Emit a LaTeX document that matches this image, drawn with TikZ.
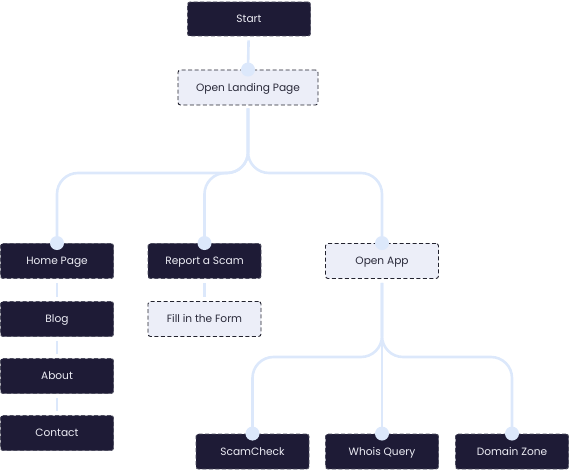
\documentclass[tikz,border=0pt]{standalone}
\usepackage{fontspec}
\setmainfont{Poppins}
\usetikzlibrary{calc}
\definecolor{darkbox}{HTML}{1E1B36}
\definecolor{lightbox}{HTML}{ECEEF8}
\definecolor{conncol}{HTML}{DCE8FB}
\definecolor{darkedge}{HTML}{4A4A5C}
\definecolor{lightedge}{HTML}{22222E}
\definecolor{darktext}{HTML}{ECECF4}
\definecolor{lighttext}{HTML}{2A2A3A}
\tikzset{
  base/.style={rectangle, rounded corners=2.5pt, dash pattern=on 4pt off 2.5pt, line width=0.9pt,
    minimum height=35pt, inner sep=0pt, font=\fontsize{10.6pt}{12pt}\selectfont, text height=9.5pt, text depth=2pt},
  darkbox/.style={base, fill=darkbox, draw=darkedge, text=darktext, minimum width=113pt},
  lightbox/.style={base, fill=lightbox, draw=lightedge, text=lighttext, minimum width=113pt},
  conn/.style={draw=conncol, line width=2.6pt},
  dot/.style={circle, fill=conncol, minimum size=14pt, inner sep=0pt}
}
\begin{document}
\begin{tikzpicture}[x=1pt,y=-1pt]
\useasboundingbox (0,0) rectangle (570,470);
% nodes
\node[darkbox, minimum width=123pt, minimum height=34pt] (start) at (249,19) {Start};
\node[lightbox, minimum width=140pt] (olp) at (248,87.5) {Open Landing Page};
\node[darkbox] (hp) at (57,261) {Home Page};
\node[darkbox] (blog) at (57,319) {Blog};
\node[darkbox] (about) at (57,376) {About};
\node[darkbox] (contact) at (57,433) {Contact};
\node[darkbox] (rs) at (204.5,261) {Report a Scam};
\node[lightbox] (fill) at (204.5,319) {Fill in the Form};
\node[lightbox] (app) at (382,261) {Open App};
\node[darkbox] (sc) at (252.5,451.5) {ScamCheck};
\node[darkbox] (wq) at (382,451.5) {Whois Query};
\node[darkbox] (dz) at (512,451.5) {Domain Zone};
% junctions
\coordinate (j1) at (248,173);
\coordinate (j2) at (382,357);
% connectors
\draw[conn, shorten <=4pt] (start) -- (olp.north);
\draw[conn, shorten <=3pt, rounded corners=21pt] (olp.south) -- (j1) -| (hp.north);
\draw[conn, shorten <=3pt, rounded corners=21pt] (olp.south) -- (j1) -| (rs.north);
\draw[conn, shorten <=3pt, rounded corners=21pt] (olp.south) -- (j1) -| (app.north);
\draw[conn, shorten <=4pt, shorten >=4pt] (hp) -- (blog);
\draw[conn, shorten <=4pt, shorten >=4pt] (blog) -- (about);
\draw[conn, shorten <=4pt, shorten >=4pt] (about) -- (contact);
\draw[conn, shorten <=4pt, shorten >=4pt] (rs) -- (fill);
\draw[conn, shorten <=4pt, rounded corners=21pt] (app.south) -- (j2) -| (sc.north);
\draw[conn, shorten <=4pt] (app.south) -- (wq.north);
\draw[conn, shorten <=4pt, rounded corners=21pt] (app.south) -- (j2) -| (dz.north);
% dots
\foreach \n in {olp,hp,rs,app,sc,wq,dz} \node[dot] at (\n.north) {};
\end{tikzpicture}
\end{document}
